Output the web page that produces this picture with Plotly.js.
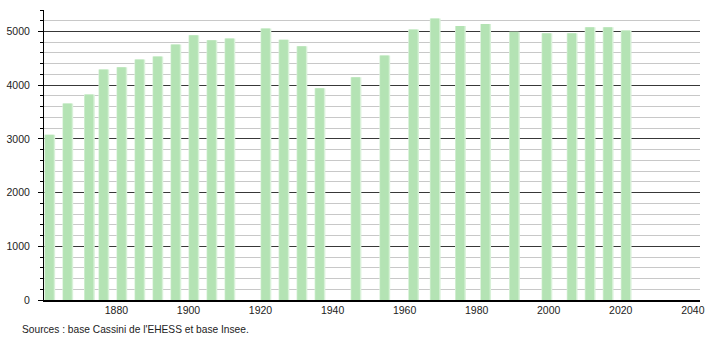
<!DOCTYPE html>
<html>
<head>
<meta charset="utf-8">
<script src="https://cdn.plot.ly/plotly-3.0.1.min.js"></script>
<style>html,body{margin:0;padding:0;background:#fff;}</style>
</head>
<body>
<div id="chart" style="width:710px;height:340px;"></div>
<script>
const years = [1861,1866,1872,1876,1881,1886,1891,1896,1901,1906,1911,1921,1926,1931,1936,1946,1954,1962,1968,1975,1982,1990,1999,2006,2011,2016,2021];
const population = [3075,3657,3825,4291,4334,4478,4534,4757,4931,4838,4870,5056,4845,4726,3942,4148,4552,5037,5243,5100,5137,4994,4969,4969,5081,5081,5019];
const xTickVals = [1880,1900,1920,1940,1960,1980,2000,2020,2040];
const sourceText = "Sources : base Cassini de l'EHESS et base Insee.";

const font = {family: "Liberation Sans, Arial, sans-serif", size: 10.5, color: "#222"};

const halo = {
  type: 'bar', x: years, y: population,
  width: 3.0, offset: -1.0,
  marker: {color: '#d8f1d8', line: {width: 0}},
  hoverinfo: 'skip', showlegend: false
};
const core = {
  type: 'bar', x: years, y: population,
  width: 2.4, offset: -0.8,
  marker: {color: '#b4e3b4', line: {width: 0}},
  showlegend: false
};

const layout = {
  width: 710, height: 340,
  margin: {l: 44, r: 10, t: 10, b: 40, pad: 0},
  paper_bgcolor: '#fff', plot_bgcolor: '#fff',
  barmode: 'overlay',
  font: font,
  xaxis: {
    range: [1859.9, 2042], tickvals: xTickVals, ticktext: xTickVals.map(String),
    showgrid: false, zeroline: false, showline: true, linecolor: '#000', linewidth: 1.5,
    ticks: '', tickfont: font, fixedrange: true
  },
  yaxis: {
    range: [0, 5400], dtick: 1000, tick0: 0,
    showgrid: true, gridcolor: '#383838', gridwidth: 1,
    zeroline: false, showline: true, linecolor: '#000', linewidth: 1,
    ticks: 'outside', ticklen: 5, tickcolor: '#000', tickfont: font,
    ticklabelstandoff: 6,
    minor: {dtick: 200, showgrid: true, gridcolor: '#c8c8c8', gridwidth: 1, ticks: 'outside', ticklen: 3, tickcolor: '#000'},
    fixedrange: true
  },
  annotations: [{
    text: sourceText, xref: 'paper', yref: 'paper',
    x: -0.0366, y: -0.103, xanchor: 'left', yanchor: 'middle',
    showarrow: false, font: {family: font.family, size: 10.2, color: '#222'}
  }]
};

Plotly.newPlot('chart', [halo, core], layout, {displayModeBar: false, staticPlot: true});
</script>
</body>
</html>
